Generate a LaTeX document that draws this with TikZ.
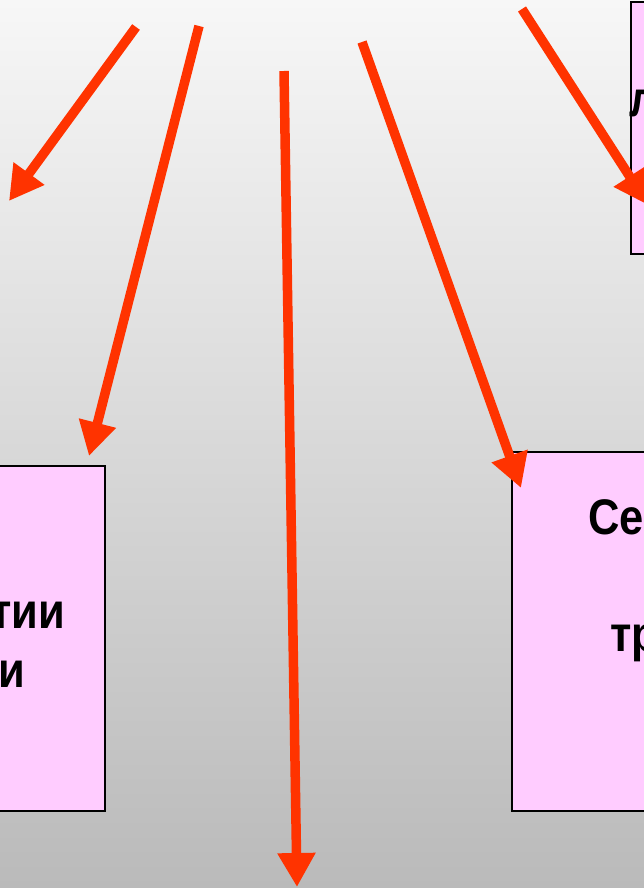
\documentclass[tikz,border=0pt]{standalone}
\usepackage{fontspec}
\setmainfont[FakeStretch=0.87]{Liberation Sans}
\usetikzlibrary{arrows.meta,positioning}

\definecolor{bgtop}{RGB}{247,247,247}
\definecolor{bgbottom}{RGB}{186,186,186}
\definecolor{pinkfill}{RGB}{255,204,255}
\definecolor{arrowred}{RGB}{255,51,0}

\begin{document}
\begin{tikzpicture}[
	x=1pt,y=-1pt,
	>={Triangle[width=36pt,length=34pt]},
	every node/.style={font=\fontsize{50}{57}\selectfont\bfseries, inner sep=0pt},
	pinkbox/.style={draw=black, line width=2pt, fill=pinkfill},
	redarrow/.style={->, draw=arrowred, line width=9.5pt}
	]
	
	% --------------------------
	% Frame and background
	% --------------------------
	\useasboundingbox (0,0) rectangle (644,888);
	\clip (0,0) rectangle (644,888);
	\shade[top color=bgtop, bottom color=bgbottom] (0,0) rectangle (644,888);
	
	% --------------------------
	% Boxes (cut by the frame)
	% --------------------------
	\node[pinkbox, minimum width=300pt, minimum height=345pt, anchor=north east] (boxL) at (106,465) {};
	\node[pinkbox, minimum width=300pt, minimum height=359pt, anchor=north west] (boxR) at (511,451) {};
	\node[pinkbox, minimum width=300pt, minimum height=252pt, anchor=south west] (boxT) at (630,255) {};
	
	% text fragments
	\node[anchor=base east] (txtL1) at (65,628) {тии};
	\node[anchor=base east] (txtL2) at (25,687) {и};
	\node[anchor=base west] (txtR1) at (588,534) {Се};
	\node[anchor=base west] (txtR2) at (610,651) {тр};
	\node[anchor=base west] (txtT1) at (629,117) {л};
	
	% --------------------------
	% Arrows
	% --------------------------
	\coordinate (s1) at (136,27);
	\coordinate (t1) at (9,201);
	\coordinate (s2) at (199,26);
	\coordinate (t2) at (89,456);
	\coordinate (s3) at (284,71);
	\coordinate (t3) at (297,887);
	\coordinate (s4) at (362,42);
	\coordinate (t4) at (521,488);
	\coordinate (s5) at (522,9);
	\coordinate (t5) at (648,205);
	
	\draw[redarrow] (s1) -- (t1);
	\draw[redarrow] (s2) -- (t2);
	\draw[redarrow] (s3) -- (t3);
	\draw[redarrow] (s4) -- (t4);
	\draw[redarrow] (s5) -- (t5);
	
\end{tikzpicture}
\end{document}
